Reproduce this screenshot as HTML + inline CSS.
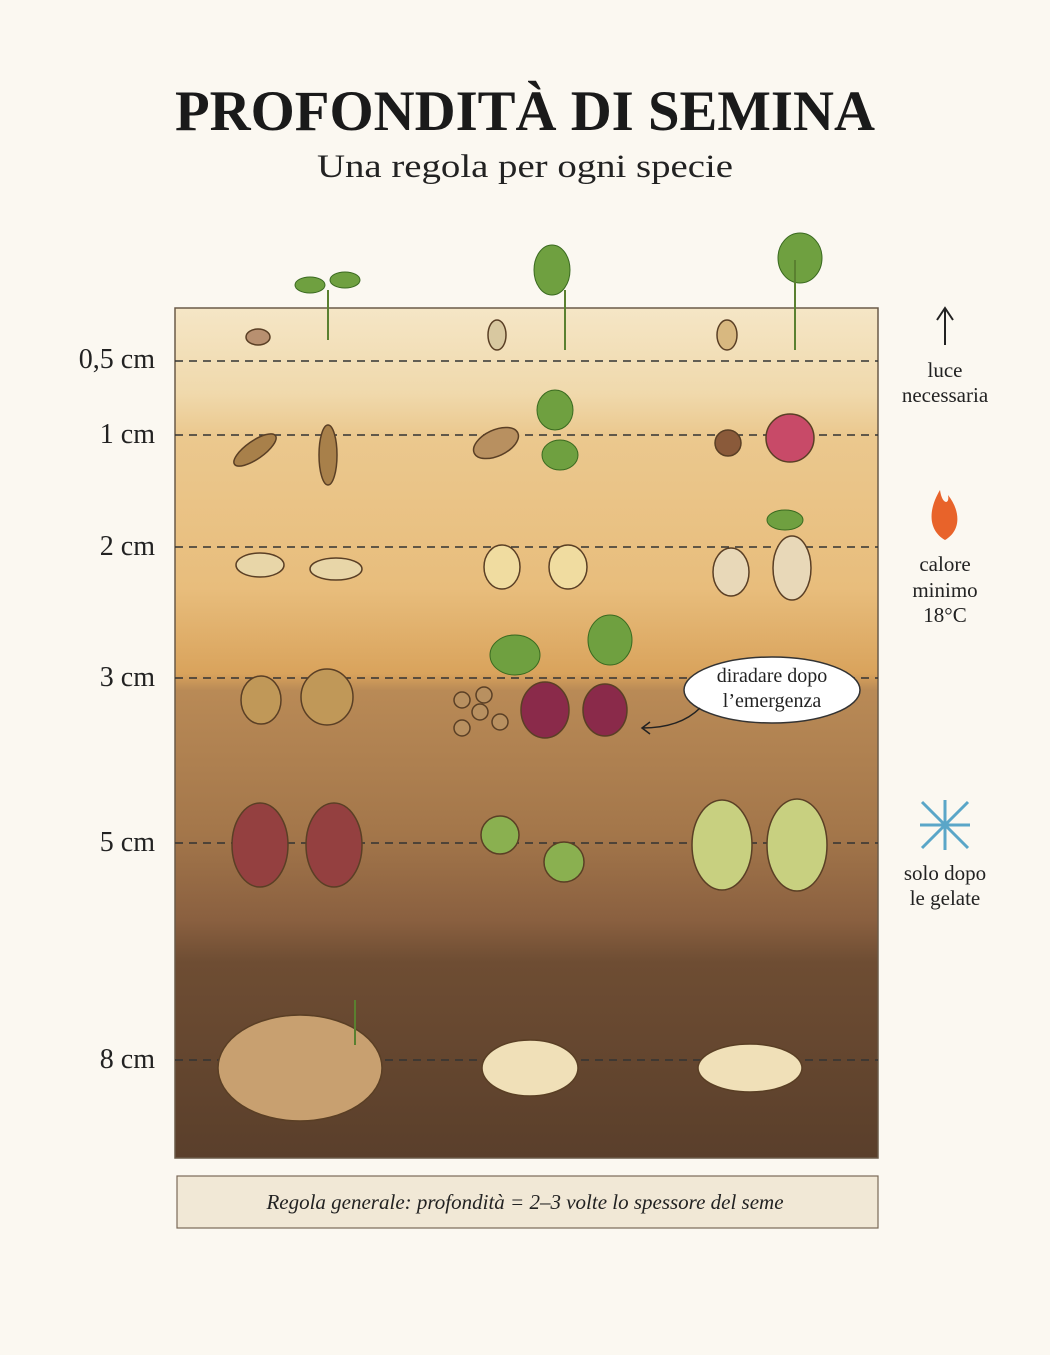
<!DOCTYPE html>
<html><head><meta charset="utf-8"><style>
body{margin:0;width:1050px;height:1350px;background:#fbf8f1;overflow:hidden;font-family:"Liberation Serif",serif;}
</style></head><body>
<svg width="1050" height="1350" xmlns="http://www.w3.org/2000/svg">
<defs>
<linearGradient id="soil" x1="0" y1="0" x2="0" y2="1">
<stop offset="0" stop-color="#f5e6c6"/>
<stop offset="0.1" stop-color="#f0d9ac"/>
<stop offset="0.15" stop-color="#ebc88e"/>
<stop offset="0.33" stop-color="#e8bd7c"/>
<stop offset="0.43" stop-color="#d9a35c"/>
<stop offset="0.45" stop-color="#b98a56"/>
<stop offset="0.62" stop-color="#a3764a"/>
<stop offset="0.72" stop-color="#8a6040"/>
<stop offset="0.77" stop-color="#6e4d33"/>
<stop offset="1" stop-color="#5a3f2b"/>
</linearGradient>
</defs>
<text x="525" y="130" text-anchor="middle" font-family="Liberation Serif" font-weight="bold" font-size="57" fill="#1a1a1a" textLength="700" lengthAdjust="spacingAndGlyphs">PROFONDITÀ DI SEMINA</text>
<text x="525" y="177" text-anchor="middle" font-family="Liberation Serif" font-size="33" fill="#222" textLength="416" lengthAdjust="spacingAndGlyphs">Una regola per ogni specie</text>
<rect x="175" y="308" width="703" height="850" fill="url(#soil)" stroke="#6b5a48" stroke-width="1.5"/>
<g stroke="#333" stroke-width="1.5" stroke-dasharray="8,6">
<line x1="175" y1="361" x2="878" y2="361"/><line x1="175" y1="435" x2="878" y2="435"/>
<line x1="175" y1="547" x2="878" y2="547"/><line x1="175" y1="678" x2="878" y2="678"/>
<line x1="175" y1="843" x2="878" y2="843"/><line x1="175" y1="1060" x2="878" y2="1060"/>
</g>
<g font-size="28" fill="#222" text-anchor="end">
<text x="155" y="368">0,5 cm</text><text x="155" y="443">1 cm</text><text x="155" y="555">2 cm</text>
<text x="155" y="686">3 cm</text><text x="155" y="851">5 cm</text><text x="155" y="1068">8 cm</text>
</g>
<g font-size="21" fill="#222" text-anchor="middle">
<text x="945" y="377">luce</text><text x="945" y="402">necessaria</text>
<text x="945" y="571">calore</text><text x="945" y="597">minimo</text><text x="945" y="622">18°C</text>
<text x="945" y="880">solo dopo</text><text x="945" y="905">le gelate</text>
</g>
<path d="M945 345 V310 M937 320 L945 308 L953 320" stroke="#222" stroke-width="2" fill="none"/>
<path d="M945 540 C928 530 928 510 940 490 C942 505 950 505 948 495 C960 510 962 530 945 540Z" fill="#e8632a"/>
<g stroke="#5aa6c8" stroke-width="3"><line x1="922" y1="802" x2="968" y2="848"/><line x1="968" y1="802" x2="922" y2="848"/><line x1="945" y1="800" x2="945" y2="850"/><line x1="920" y1="825" x2="970" y2="825"/></g>
<g stroke="#5a3f25" stroke-width="1.5">
<ellipse cx="258" cy="337" rx="12" ry="8" fill="#b89070"/>
<ellipse cx="497" cy="335" rx="9" ry="15" fill="#d8c8a0"/>
<ellipse cx="727" cy="335" rx="10" ry="15" fill="#d8b880"/>
<ellipse cx="255" cy="450" rx="25" ry="9" fill="#a8804a" transform="rotate(-35 255 450)"/>
<ellipse cx="328" cy="455" rx="9" ry="30" fill="#a8804a"/>
<ellipse cx="496" cy="443" rx="24" ry="13" fill="#b89060" transform="rotate(-25 496 443)"/>
<circle cx="728" cy="443" r="13" fill="#8a5a3a"/>
<circle cx="790" cy="438" r="24" fill="#c84a68"/>
<ellipse cx="260" cy="565" rx="24" ry="12" fill="#e8d6a8"/>
<ellipse cx="336" cy="569" rx="26" ry="11" fill="#e8d6a8"/>
<ellipse cx="502" cy="567" rx="18" ry="22" fill="#f0dca0"/>
<ellipse cx="568" cy="567" rx="19" ry="22" fill="#f0dca0"/>
<ellipse cx="731" cy="572" rx="18" ry="24" fill="#e8d8b8"/>
<ellipse cx="792" cy="568" rx="19" ry="32" fill="#e8d8b8"/>
<ellipse cx="261" cy="700" rx="20" ry="24" fill="#c09858"/>
<ellipse cx="327" cy="697" rx="26" ry="28" fill="#c09858"/>
<circle cx="462" cy="700" r="8" fill="#b89060"/><circle cx="480" cy="712" r="8" fill="#b89060"/><circle cx="462" cy="728" r="8" fill="#b89060"/><circle cx="484" cy="695" r="8" fill="#b89060"/><circle cx="500" cy="722" r="8" fill="#b89060"/>
<ellipse cx="545" cy="710" rx="24" ry="28" fill="#8a2a4a"/>
<ellipse cx="605" cy="710" rx="22" ry="26" fill="#8a2a4a"/>
<ellipse cx="260" cy="845" rx="28" ry="42" fill="#944040"/>
<ellipse cx="334" cy="845" rx="28" ry="42" fill="#944040"/>
<circle cx="500" cy="835" r="19" fill="#8ab050"/>
<circle cx="564" cy="862" r="20" fill="#8ab050"/>
<ellipse cx="722" cy="845" rx="30" ry="45" fill="#c8d080"/>
<ellipse cx="797" cy="845" rx="30" ry="46" fill="#c8d080"/>
<ellipse cx="300" cy="1068" rx="82" ry="53" fill="#c8a070"/>
<ellipse cx="530" cy="1068" rx="48" ry="28" fill="#f0e0b8"/>
<ellipse cx="750" cy="1068" rx="52" ry="24" fill="#f0e0b8"/>
</g>
<g fill="#6fa040" stroke="#3a6a20">
<ellipse cx="310" cy="285" rx="15" ry="8"/><ellipse cx="345" cy="280" rx="15" ry="8"/>
<ellipse cx="552" cy="270" rx="18" ry="25"/><ellipse cx="800" cy="258" rx="22" ry="25"/>
<ellipse cx="555" cy="410" rx="18" ry="20"/><ellipse cx="560" cy="455" rx="18" ry="15"/>
<ellipse cx="785" cy="520" rx="18" ry="10"/>
<ellipse cx="515" cy="655" rx="25" ry="20"/><ellipse cx="610" cy="640" rx="22" ry="25"/>
</g>
<g stroke="#5a8030" stroke-width="2"><line x1="328" y1="290" x2="328" y2="340"/><line x1="565" y1="290" x2="565" y2="350"/><line x1="795" y1="260" x2="795" y2="350"/><line x1="355" y1="1000" x2="355" y2="1045"/></g>
<ellipse cx="772" cy="690" rx="88" ry="33" fill="#fff" stroke="#333" stroke-width="1.5"/>
<text x="772" y="682" text-anchor="middle" font-size="20" fill="#222">diradare dopo</text>
<text x="772" y="707" text-anchor="middle" font-size="20" fill="#222">l’emergenza</text>
<path d="M700 708 Q680 728 642 728 M650 722 L642 728 L650 734" stroke="#222" stroke-width="1.5" fill="none"/>
<rect x="177" y="1176" width="701" height="52" fill="#f1e8d6" stroke="#7a6a58" stroke-width="1.2"/>
<text x="525" y="1209" text-anchor="middle" font-style="italic" font-size="21" fill="#222">Regola generale: profondità = 2–3 volte lo spessore del seme</text>
</svg>
</body></html>
